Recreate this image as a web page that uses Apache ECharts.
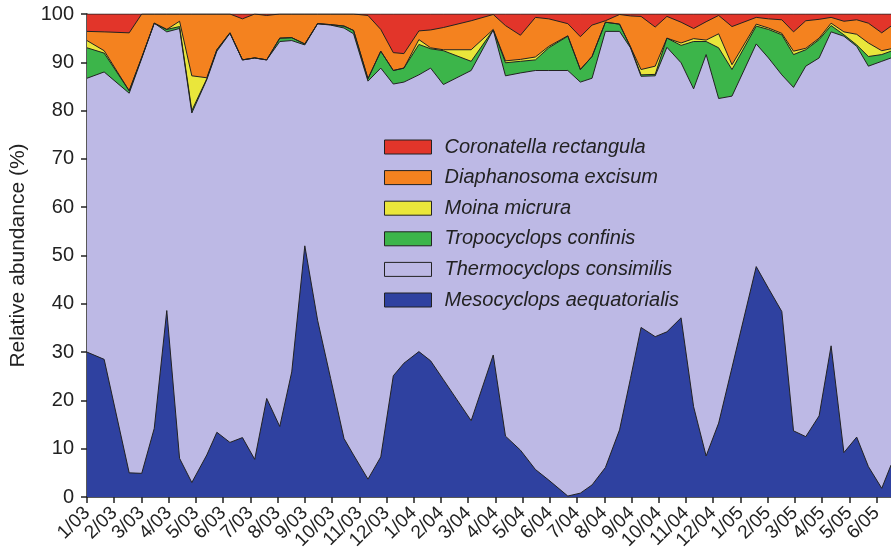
<!DOCTYPE html>
<html>
<head>
<meta charset="utf-8">
<title>Relative abundance</title>
<script src="https://cdn.jsdelivr.net/npm/echarts@6/dist/echarts.min.js"></script>
<style>
  html, body { margin: 0; padding: 0; background: #fff; }
  #chart { width: 891px; height: 554px; }
</style>
</head>
<body>
<div id="chart"></div>
<script>
// month labels on the x axis (one tick per month, Jan 2003 .. Jun 2005)
var tickLabels = ['1/03','2/03','3/03','4/03','5/03','6/03','7/03','8/03','9/03','10/03','11/03','12/03',
  '1/04','2/04','3/04','4/04','5/04','6/04','7/04','8/04','9/04','10/04','11/04','12/04',
  '1/05','2/05','3/05','4/05','5/05','6/05'];

// sampling dates, in months since 1/03
var months = [0.00,0.63,1.55,2.01,2.47,2.93,3.40,3.85,4.40,4.77,5.25,5.71,6.16,6.60,7.08,7.52,8.00,8.47,8.95,9.44,
  9.79,10.32,10.79,11.25,11.64,12.19,12.62,13.09,14.11,14.92,15.37,15.92,16.47,16.96,17.66,18.12,18.55,19.04,19.56,19.96,
  20.35,20.87,21.30,21.82,22.28,22.74,23.20,23.69,24.58,25.03,25.52,25.95,26.40,26.89,27.33,27.80,28.27,28.70,29.19,29.53];

// relative abundance (%) per species, bottom of the stack first
var mesocyclops = [30.0,28.5,5.0,4.9,14.2,38.6,8.0,3.0,8.7,13.4,11.3,12.3,7.8,20.4,14.6,25.9,52.0,36.6,24.5,12.1,
  8.7,3.7,8.3,25.1,27.7,30.1,28.2,24.3,15.8,29.4,12.6,9.7,5.7,3.5,0.2,0.8,2.5,6.1,13.9,24.5,
  35.1,33.2,34.2,37.1,18.7,8.5,15.3,26.8,47.7,43.2,38.4,13.7,12.5,16.8,31.3,9.2,12.4,6.3,1.8,6.6];
var thermocyclops = [56.7,59.5,78.6,85.9,83.9,57.7,89.0,76.5,77.7,78.9,84.7,78.2,83.1,70.1,79.7,68.6,41.6,61.4,73.2,85.0,
  87.2,82.4,80.5,60.4,58.2,57.3,60.6,61.1,72.5,67.3,74.6,78.1,82.6,84.8,88.1,85.1,84.2,90.3,82.5,68.5,
  52.0,54.0,58.9,52.8,65.8,83.1,67.2,56.2,46.1,47.7,49.0,71.1,76.7,74.1,65.0,86.2,80.9,82.9,88.4,84.3];
var tropocyclops = [6.3,3.9,0.5,0.2,0,0.5,0.4,0.5,0.2,0.3,0.1,0,0,0,0.7,0.6,0.2,0,0.1,0.4,
  0.7,0.5,3.5,2.8,2.9,6.3,4.0,7.0,1.9,0,2.7,2.4,2.2,4.7,7.1,2.6,4.5,1.9,1.5,0.2,
  0.3,0.3,1.9,3.6,9.8,2.7,10.5,5.5,3.7,5.9,8.3,6.8,3.4,3.8,1.3,0.3,0.3,2.0,1.4,1.4];
var moina = [1.5,0.5,0,0,0,0,1.1,7.2,0.2,0,0,0,0,0,0,0,0,0,0,0,
  0,0,0,0,0,1.0,0.2,0.2,2.4,0.1,0.4,0.4,0.6,0.3,0.1,0,0,0,0,0,
  1.1,1.7,0,0.5,0.6,0.3,2.9,1.0,0.4,0.3,0.3,0.7,0.3,0.3,0.5,0.6,2.2,2.8,0.8,0.5];
var diaphanosoma = [1.9,3.9,12.0,9.0,1.9,3.2,1.5,12.8,13.2,7.4,3.9,8.5,9.1,9.2,5.0,4.9,6.2,2.0,2.2,2.5,
  3.4,13.1,4.5,3.7,3.0,1.8,3.7,4.6,6.0,3.1,7.3,5.0,8.2,5.7,2.5,6.8,6.5,0.3,2.0,6.4,
  11.0,8.1,4.5,4.3,2.1,3.8,3.8,7.9,1.4,1.9,2.8,4.0,5.7,3.9,1.2,2.2,3.0,4.1,3.7,4.7];
var coronatella = [3.6,3.7,3.9,0,0,0,0,0,0,0,0,1.0,0,0.3,0,0,0,0,0,0,
  0,0.3,3.2,8.0,8.2,3.5,3.3,2.8,1.4,0.1,2.4,4.4,0.7,1.0,2.0,4.7,2.3,1.4,0.1,0.4,
  0.5,2.7,0.5,1.7,3.0,1.6,0.3,2.6,0.7,1.0,1.2,3.7,1.4,1.1,0.7,1.5,1.2,1.9,3.9,2.5];

var names = ['Mesocyclops aequatorialis','Thermocyclops consimilis','Tropocyclops confinis',
  'Moina micrura','Diaphanosoma excisum','Coronatella rectangula'];
var values = [mesocyclops, thermocyclops, tropocyclops, moina, diaphanosoma, coronatella];
var colors = ['#2f41a0','#bdb9e5','#3cb54a','#eae63b','#f4821f','#e2352a'];

var font = 'Liberation Sans, Arial, sans-serif';

// running totals: each layer is drawn as an area down to 0, top layer first,
// so the lower layers paint over it (same look as a stacked area)
var running = months.map(function () { return 0; });
var tops = values.map(function (arr) {
  running = running.map(function (s, j) { return s + arr[j]; });
  return running.slice();
});

var series = [];
for (var i = names.length - 1; i >= 0; i--) {
  series.push({
    name: names[i],
    type: 'line',
    symbol: 'none',
    color: colors[i],
    itemStyle: { color: colors[i] },
    lineStyle: { color: '#222', width: 1 },
    areaStyle: { color: colors[i], opacity: 1, origin: 'start' },
    data: months.map(function (m, j) { return [m, tops[i][j]]; })
  });
}

var chart = echarts.init(document.getElementById('chart'), null, { renderer: 'canvas' });
chart.setOption({
  animation: false,
  backgroundColor: '#fff',
  grid: { left: 86, right: 0, top: 14, bottom: 57 },
  legend: {
    orient: 'vertical',
    left: 384,
    top: 137,
    padding: 0,
    icon: 'rect',
    itemWidth: 47,
    itemHeight: 14,
    itemGap: 10.6,
    itemStyle: { borderColor: '#222', borderWidth: 1 },
    textStyle: { fontFamily: font, fontSize: 20, fontStyle: 'italic', color: '#222', padding: [0, 0, 0, 8] },
    data: names.slice().reverse()
  },
  xAxis: {
    type: 'value',
    min: 0,
    max: months[months.length - 1],
    interval: 1,
    splitLine: { show: false },
    axisLine: { lineStyle: { color: '#222', width: 1.5 } },
    axisTick: { length: 6, lineStyle: { color: '#222', width: 1.5 } },
    axisLabel: {
      rotate: 45,
      margin: 13,
      fontFamily: font,
      fontSize: 19,
      color: '#222',
      showMaxLabel: false,
      formatter: function (v) {
        return Number.isInteger(v) && tickLabels[v] ? tickLabels[v] : '';
      }
    }
  },
  yAxis: {
    type: 'value',
    min: 0,
    max: 100,
    interval: 10,
    name: 'Relative abundance (%)',
    nameLocation: 'middle',
    nameGap: 58,
    nameTextStyle: { fontFamily: font, fontSize: 21, color: '#222' },
    splitLine: { show: false },
    axisLine: { show: true, lineStyle: { color: '#222', width: 1.5 } },
    axisTick: { show: true, length: 6, lineStyle: { color: '#222', width: 1.5 } },
    axisLabel: { fontFamily: font, fontSize: 20, color: '#222', margin: 13 }
  },
  series: series
});
</script>
</body>
</html>
